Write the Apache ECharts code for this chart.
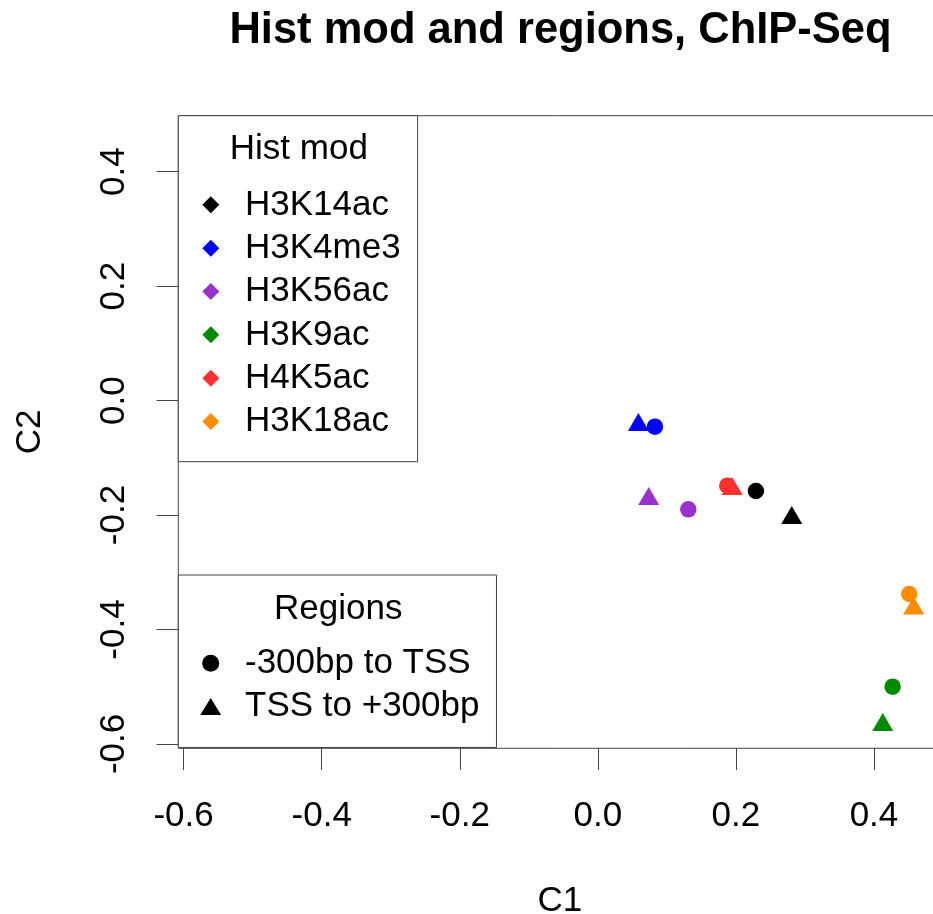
<!DOCTYPE html>
<html><head><meta charset="utf-8">
<script src="https://cdn.jsdelivr.net/npm/echarts@6/dist/echarts.min.js"></script>
<style>html,body{margin:0;padding:0;background:#fff}#c{width:933px;height:914px}</style>
</head><body><div id="c"></div>
<script>
// ---- data ----
const marks = ['H3K14ac', 'H3K4me3', 'H3K56ac', 'H3K9ac', 'H4K5ac', 'H3K18ac'];
const markColors = ['#000000', '#0000FF', '#9932CC', '#008B00', '#FF3030', '#FF8C00'];
// "-300bp to TSS" (circles)
const upX = [0.229, 0.0827, 0.131, 0.427, 0.1875, 0.4511];
const upY = [-0.158, -0.0456, -0.190, -0.4999, -0.1487, -0.338];
// "TSS to +300bp" (triangles)
const downX = [0.2809, 0.0588, 0.0737, 0.4127, 0.1946, 0.4575];
const downY = [-0.2053, -0.0428, -0.1721, -0.567, -0.1546, -0.3631];
const regions = ['-300bp to TSS', 'TSS to +300bp'];
const regionSymbols = ['circle', 'triangle'];
const xTicks = [-0.6, -0.4, -0.2, 0.0, 0.2, 0.4];
const yTicks = [-0.6, -0.4, -0.2, 0.0, 0.2, 0.4];
const xRange = [-0.6077, 0.4978];
const yRange = [-0.6076, 0.4978];

const FONT = '"Liberation Sans", Arial, Helvetica, sans-serif';
const LINE = '#444';

const series = [];
marks.forEach((m, i) => {
  series.push({
    name: m, type: 'scatter', symbol: 'circle', symbolSize: 16.5,
    data: [[upX[i], upY[i]]],
    itemStyle: { color: markColors[i], opacity: 1 },
    emphasis: { disabled: true }, z: 3
  });
});
marks.forEach((m, i) => {
  series.push({
    name: m, type: 'scatter', symbol: 'triangle', symbolSize: [21, 18], symbolOffset: [0, -3],
    data: [[downX[i], downY[i]]],
    itemStyle: { color: markColors[i], opacity: 1 },
    emphasis: { disabled: true }, z: 4
  });
});
regions.forEach((r, i) => {
  series.push({
    name: r, type: 'scatter', symbol: regionSymbols[i], data: [],
    itemStyle: { color: '#000000', opacity: 1 }
  });
});

const fmt = v => (Math.abs(v) < 1e-9 ? 0 : v).toFixed(1);

const option = {
  animation: false,
  backgroundColor: '#ffffff',
  textStyle: { fontFamily: FONT },
  title: [
    { text: 'Hist mod and regions, ChIP-Seq', left: 560.5, top: 9.4, textAlign: 'center', padding: 0,
      textStyle: { fontFamily: FONT, fontSize: 43.5, fontWeight: 'bold', color: '#000' } },
    { text: 'Hist mod', left: 298.8, top: 131.5, textAlign: 'center', padding: 0, z: 10,
      textStyle: { fontFamily: FONT, fontSize: 35, fontWeight: 'normal', color: '#000' } },
    { text: 'Regions', left: 338.3, top: 592.1, textAlign: 'center', padding: 0, z: 10,
      textStyle: { fontFamily: FONT, fontSize: 35, fontWeight: 'normal', color: '#000' } }
  ],
  grid: {
    left: 178.3, top: 115.7, width: 763.2, height: 632.6,
    show: true, borderColor: LINE, borderWidth: 1, backgroundColor: 'transparent',
    containLabel: false, outerBoundsMode: 'none'
  },
  xAxis: {
    type: 'value', min: xRange[0], max: xRange[1], position: 'bottom',
    name: 'C1', nameLocation: 'middle', nameGap: 152.6,
    nameTextStyle: { fontFamily: FONT, fontSize: 35, color: '#000', align: 'center', verticalAlign: 'middle' },
    axisLine: { show: false, onZero: false },
    splitLine: { show: false },
    axisTick: { show: true, length: 21.7, inside: false, customValues: xTicks, lineStyle: { color: LINE, width: 1 } },
    axisLabel: { show: true, customValues: xTicks, formatter: fmt, margin: 67.6,
      fontFamily: FONT, fontSize: 35, color: '#000', verticalAlign: 'middle', align: 'center' }
  },
  yAxis: {
    type: 'value', min: yRange[0], max: yRange[1], position: 'left',
    name: 'C2', nameLocation: 'middle', nameGap: 148.1, nameRotate: 90,
    nameTextStyle: { fontFamily: FONT, fontSize: 35, color: '#000', align: 'center', verticalAlign: 'middle' },
    axisLine: { show: false, onZero: false },
    splitLine: { show: false },
    axisTick: { show: true, length: 21.7, inside: false, customValues: yTicks, lineStyle: { color: LINE, width: 1 } },
    axisLabel: { show: true, customValues: yTicks, formatter: fmt, margin: 63.8, rotate: 90,
      fontFamily: FONT, fontSize: 35, color: '#000', verticalAlign: 'middle', align: 'center' }
  },
  legend: [
    {
      orient: 'vertical', left: 178.3, top: 115.7,
      padding: [67.5, 17, 18.5, 24.0],
      itemWidth: 17, itemHeight: 17, itemGap: 0,
      selectedMode: false,
      backgroundColor: '#ffffff', borderColor: LINE, borderWidth: 1, borderRadius: 0,
      textStyle: { fontFamily: FONT, fontSize: 35, lineHeight: 43.33, color: '#000', padding: [0, 0, 0, 20.7] },
      data: marks.map(n => ({ name: n, icon: 'diamond' })),
      z: 8
    },
    {
      orient: 'vertical', left: 178.3, top: 575,
      padding: [66.5, 17, 19.3, 21.9],
      itemWidth: 21, itemHeight: 17, itemGap: 0,
      selectedMode: false,
      backgroundColor: '#ffffff', borderColor: LINE, borderWidth: 1, borderRadius: 0,
      textStyle: { fontFamily: FONT, fontSize: 35, lineHeight: 43.33, color: '#000', padding: [0, 0, 0, 18.8] },
      data: regions.map((n, i) => ({ name: n, icon: regionSymbols[i] })),
      z: 8
    }
  ],
  series: series
};

const chart = echarts.init(document.getElementById('c'), null, { renderer: 'canvas' });
chart.setOption(option);
</script>
</body></html>
